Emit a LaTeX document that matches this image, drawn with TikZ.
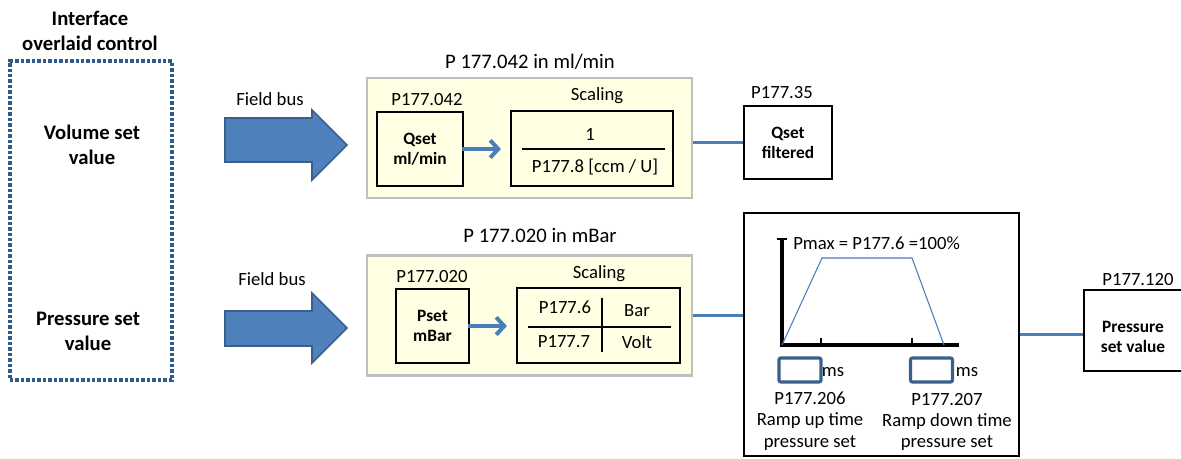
\documentclass[tikz,border=0pt]{standalone}
\usepackage{fontspec}
\setmainfont{Carlito}
\usetikzlibrary{arrows.meta}

\definecolor{busblue}{HTML}{4F81BD}
\definecolor{busedge}{HTML}{3A5F8B}
\definecolor{linkblue}{HTML}{4A7EBB}
\definecolor{dotblue}{HTML}{2F5A8E}
\definecolor{panelfill}{HTML}{FFFFE3}
\definecolor{panelgray}{HTML}{BFBFBF}

\tikzstyle{dotbox} = [
	rectangle,
	draw=dotblue,
	line width=2.6pt,
	dash pattern=on 2.6pt off 1.5pt,
	minimum width=121.5pt,
	minimum height=239.25pt
]
\tikzstyle{busarrow} = [fill=busblue, draw=busedge, line width=1.2pt]
\tikzstyle{panel} = [
	rectangle,
	draw=panelgray,
	line width=2.2pt,
	fill=panelfill,
	minimum width=243.75pt,
	minimum height=90pt
]
\tikzstyle{plainbox} = [rectangle, draw=black, line width=1.1pt, inner sep=0pt]
\tikzstyle{valbox} = [plainbox, align=center, font=\fontsize{13}{15}\selectfont\bfseries]
\tikzstyle{lbl} = [inner sep=0pt, anchor=base]
\tikzstyle{heading} = [inner sep=0pt, anchor=base, font=\fontsize{15.5}{18.75}\selectfont]
\tikzstyle{side} = [inner sep=0pt, align=center, font=\fontsize{15.5}{18.75}\selectfont\bfseries]
\tikzstyle{link} = [linkblue, line width=2.2pt]
\tikzstyle{arrow} = [linkblue, line width=3pt, -{Straight Barb[length=6pt, width=13pt]}]
\tikzstyle{msbox} = [
	rectangle,
	draw=busedge,
	line width=2.4pt,
	rounded corners=1.5pt,
	minimum width=31.5pt,
	minimum height=18pt
]
\tikzstyle{ramptext} = [inner sep=0pt, align=center, font=\fontsize{14}{16}\selectfont]

\begin{document}
\begin{tikzpicture}[x=0.75pt, y=-0.75pt, font=\fontsize{14}{17}\selectfont]
\useasboundingbox (0,0) rectangle (1181,459);

% interface
\node (title) [side] at (90,31) {Interface\\overlaid control};
\node (iface) [dotbox] at (91,220.5) {};
\node (volset) [side] at (92,145) {Volume set\\value};
\node (presset) [side] at (88,331) {Pressure set\\value};

\node (bus1) [lbl] at (270,106) {Field bus};
\node (bus2) [lbl] at (272,286) {Field bus};
\draw [busarrow] (225,118) -- (312,118) -- (312,110) -- (347,145) -- (312,180) -- (312,162) -- (225,162) -- cycle;
\draw [busarrow] (225,311) -- (312,311) -- (312,293) -- (347,328) -- (312,363) -- (312,346) -- (225,346) -- cycle;

% volume
\node (head1) [heading] at (530,68.5) {P 177.042 in ml/min};
\node (panel1) [panel] at (529.5,138) {};
\node (qsetlbl) [lbl] at (427,106) {P177.042};
\node (qset) [valbox, minimum width=64.5pt, minimum height=55.5pt] at (420,149) {Qset\\ml/min};
\node (scale1lbl) [lbl] at (597,101) {Scaling};
\node (scale1) [plainbox, minimum width=121.5pt, minimum height=56.25pt] at (592,148.5) {};
\node (num) [lbl] at (590,141) {1};
\node (den) [lbl] at (595,173) {P177.8 [ccm / U]};
\draw [line width=1.3pt] (522,149) -- (665,149);
\draw [arrow, shorten <=-1pt, shorten >=7pt] (qset.east) -- (qset.east -| scale1.west);

\node (qfiltlbl) [lbl] at (782,99) {P177.35};
\node (qfilt) [valbox, minimum width=66pt, minimum height=54.75pt] at (788,142.5) {Qset\\filtered};
\draw [link] (qfilt.west) -- (qfilt.west -| panel1.east);

% pressure
\node (head2) [heading] at (540,242.5) {P 177.020 in mBar};
\node (panel2) [panel] at (529.5,315.5) {};
\node (psetlbl) [lbl] at (432,283) {P177.020};
\node (pset) [valbox, minimum width=54.75pt, minimum height=55.5pt] at (432.5,326) {Pset\\mBar};
\node (scale2lbl) [lbl] at (599,279) {Scaling};
\node (scale2) [plainbox, minimum width=122.25pt, minimum height=56.25pt] at (598.5,325.5) {};
\node (pmaxpar) [lbl] at (565,314) {P177.6};
\node (barunit) [lbl] at (637,317) {Bar};
\node (pminpar) [lbl] at (564,348) {P177.7};
\node (voltunit) [lbl] at (637,349) {Volt};
\draw [line width=1.3pt] (528,327) -- (671,327);
\draw [line width=1.3pt] (602,298) -- (602,352);
\draw [arrow, shorten <=-1pt, shorten >=7pt] (pset.east) -- (pset.east -| scale2.west);

% ramp
\node (ramp) [plainbox, minimum width=206.25pt, minimum height=182.25pt] at (881.5,334.5) {};
\draw [link] (panel2.east) -- (panel2.east -| ramp.west);
\draw [line width=3pt] (782,239) -- (782,345) -- (959,345);
\draw [line width=0.9pt] (777,239) -- (787,239);
\draw [line width=0.9pt] (821,338) -- (821,347) (912,338) -- (912,347);
\draw [linkblue, line width=0.8pt] (782,345) -- (822,258) -- (912,258) -- (944,345);
\node (pmax) [lbl, anchor=base west] at (793,250) {Pmax = P177.6 =100\%};
\node (rup) [msbox] at (800,370) {};
\node (ms1) [lbl] at (833,377) {ms};
\node (rdown) [msbox] at (931.5,370) {};
\node (ms2) [lbl] at (967,377) {ms};
\node (ruptext) [ramptext] at (810,421) {P177.206\\Ramp up time\\pressure set};
\node (rdowntext) [ramptext] at (947,422) {P177.207\\Ramp down time\\pressure set};

% output
\node (psvlbl) [lbl] at (1138,286) {P177.120};
\node (psv) [plainbox, minimum width=75pt, minimum height=60.75pt] at (1134,330.5) {};
\node (psvtext) [valbox, draw=none] at (1133,337) {Pressure\\set value};
\draw [link] (ramp.east) -- (ramp.east -| psv.west);
\end{tikzpicture}
\end{document}
